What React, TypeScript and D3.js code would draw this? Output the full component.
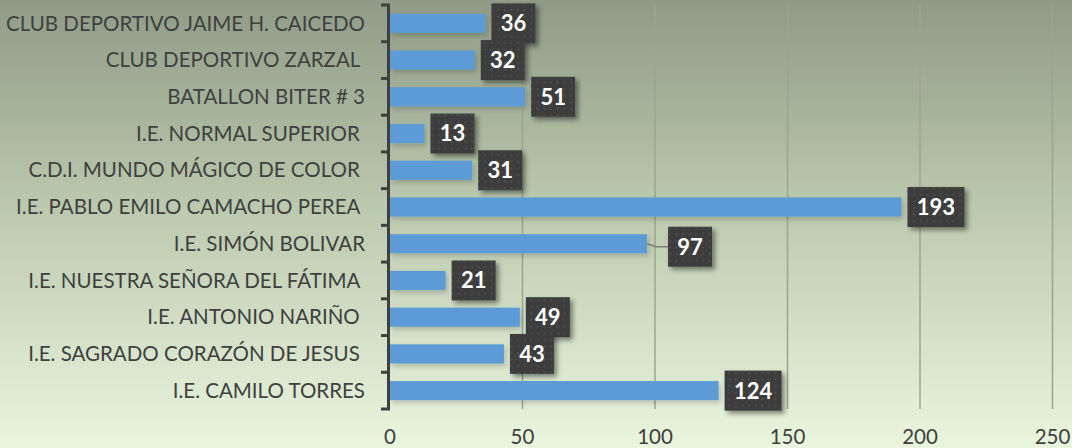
import React from 'react';
import * as d3 from 'd3';

// Horizontal bar chart: participants by institution
const categories = [
  'CLUB DEPORTIVO JAIME H. CAICEDO',
  'CLUB DEPORTIVO ZARZAL ',
  'BATALLON BITER # 3',
  'I.E. NORMAL SUPERIOR ',
  'C.D.I. MUNDO MÁGICO DE COLOR ',
  'I.E. PABLO EMILO CAMACHO PEREA ',
  'I.E. SIMÓN BOLIVAR',
  'I.E. NUESTRA SEÑORA DEL FÁTIMA ',
  'I.E. ANTONIO NARIÑO ',
  'I.E. SAGRADO CORAZÓN DE JESUS ',
  'I.E. CAMILO TORRES',
];
const values = [36, 32, 51, 13, 31, 193, 97, 21, 49, 43, 124];
const xTicks = [0, 50, 100, 150, 200, 250];
// labels that Excel pushed away from the bar end (drawn with a leader line)
const pushedLabels = ['I.E. SIMÓN BOLIVAR'];

const W = 1072;
const H = 448;
const FONT = 'Lato, "Open Sans", sans-serif';

export default function App() {
  const x = d3.scaleLinear().domain([0, 250]).range([390, 1052.5]);
  const y = d3
    .scaleBand<string>()
    .domain(categories)
    .range([5, 409])
    .paddingInner(0.48)
    .paddingOuter(0.24);

  const step = y.step();
  const boundaries = d3.range(categories.length + 1).map((i) => 5 + i * step);

  return (
    <svg
      width={W}
      height={H}
      style={{ position: 'absolute', left: 0, top: 0, display: 'block' }}
    >
      <defs>
        <linearGradient id="bg" x1="0" y1="0" x2="0" y2="1">
          <stop offset="0" stopColor="#8f9b87" />
          <stop offset="0.45" stopColor="#bac8ad" />
          <stop offset="1" stopColor="#eaf5de" />
        </linearGradient>
        <pattern id="dots" width="6.6" height="6.6" patternUnits="userSpaceOnUse">
          <rect width="6.6" height="6.6" fill="#3d3d3d" />
          <rect x="2.5" y="2.5" width="1.6" height="1.6" fill="#565656" />
        </pattern>
        <filter id="boxShadow" x="-20%" y="-20%" width="150%" height="150%">
          <feDropShadow dx="3" dy="3" stdDeviation="2.5" floodColor="#000" floodOpacity="0.45" />
        </filter>
        <filter id="barShadow" x="-5%" y="-30%" width="110%" height="180%">
          <feDropShadow dx="2" dy="3" stdDeviation="2.5" floodColor="#000" floodOpacity="0.18" />
        </filter>
      </defs>

      <rect width={W} height={H} fill="url(#bg)" />

      {/* vertical gridlines */}
      {xTicks
        .filter((t) => t > 0)
        .map((t) => (
          <line
            key={t}
            x1={x(t)}
            x2={x(t)}
            y1={5}
            y2={409}
            stroke="#9aa493"
            strokeWidth={1.5}
          />
        ))}

      {/* bars */}
      {categories.map((c, i) => (
        <rect
          key={c}
          x={x(0)}
          y={y(c)}
          width={x(values[i]) - x(0)}
          height={y.bandwidth()}
          fill="#5b9bd5"
          filter="url(#barShadow)"
        />
      ))}

      {/* category axis */}
      <g stroke="#404040" strokeWidth={3}>
        <line x1={388.5} x2={388.5} y1={5} y2={409} />
        {boundaries.map((b, i) => (
          <line key={i} x1={381} x2={390} y1={b} y2={b} />
        ))}
      </g>
      {categories.map((c) => (
        <text
          key={c}
          x={365}
          y={(y(c) ?? 0) + y.bandwidth() / 2}
          dy="0.35em"
          textAnchor="end"
          xmlSpace="preserve"
          style={{ whiteSpace: 'pre' }}
          fontFamily={FONT}
          fontSize={20.5}
          fill="#404040"
        >
          {c}
        </text>
      ))}

      {/* value axis labels */}
      {xTicks.map((t) => (
        <text
          key={t}
          x={x(t)}
          y={437}
          dy="0.35em"
          textAnchor="middle"
          fontFamily={FONT}
          fontSize={20.5}
          fill="#404040"
        >
          {t}
        </text>
      ))}

      {/* data labels */}
      {categories.map((c, i) => {
        const v = values[i];
        const cy = (y(c) ?? 0) + y.bandwidth() / 2;
        const pushed = pushedLabels.includes(c);
        const bx = x(v) + (pushed ? 21 : 6);
        const bw = String(v).length > 2 ? 57 : 44;
        const bh = 40;
        const by = cy - bh / 2 + (pushed ? 3 : 0);
        return (
          <g key={c}>
            {pushed && (
              <polyline
                points={`${x(v)},${cy} ${x(v) + 9},${cy + 3} ${bx},${cy + 3}`}
                fill="none"
                stroke="#7f7f7f"
                strokeWidth={1.5}
              />
            )}
            <rect
              x={bx}
              y={by}
              width={bw}
              height={bh}
              fill="url(#dots)"
              filter="url(#boxShadow)"
            />
            <text
              x={bx + bw / 2}
              y={by + bh / 2}
              dy="0.36em"
              textAnchor="middle"
              fontFamily={FONT}
              fontWeight={700}
              fontSize={22}
              fill="#ffffff"
            >
              {v}
            </text>
          </g>
        );
      })}
    </svg>
  );
}
